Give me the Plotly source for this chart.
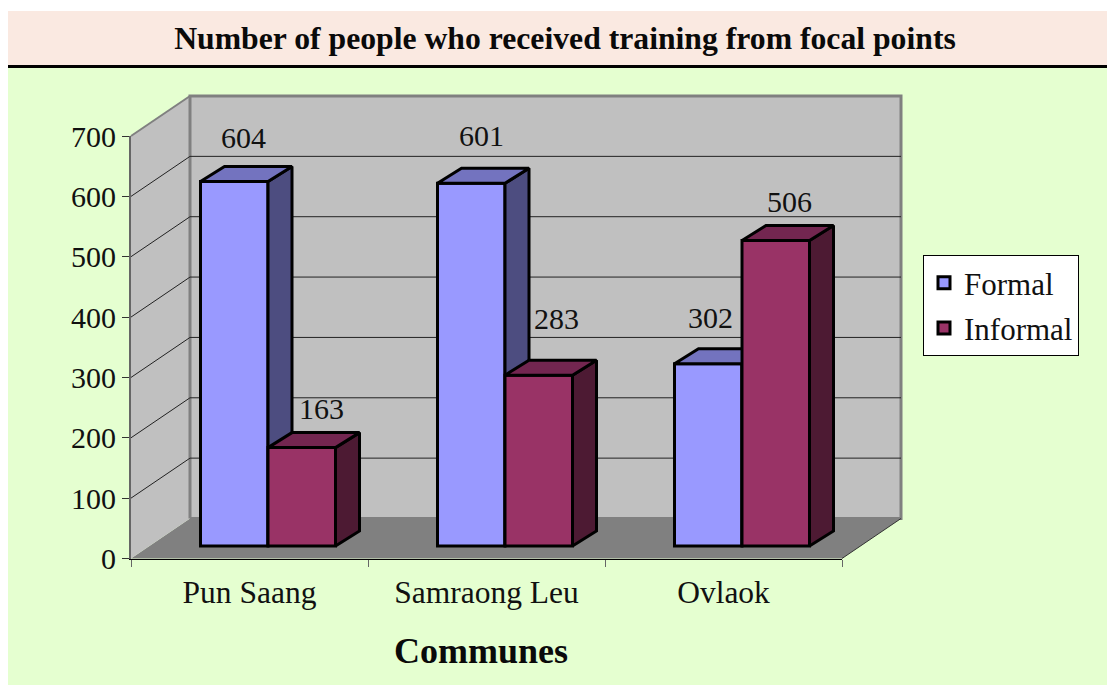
import plotly.graph_objects as go

communes = ["Pun Saang", "Samraong Leu", "Ovlaok"]
formal = [604, 601, 302]
informal = [163, 283, 506]
tick_values = [0, 100, 200, 300, 400, 500, 600, 700]

W, H = 1107, 686
FONT = "Liberation Serif"
INK = "#111111"
FORMAL = ("#9999FF", "#7373BF", "#4D4D80")
INFORMAL = ("#993366", "#732650", "#4D1A33")

# pixel calibration of the 3-D projection
X0, X1, Y0, Y700 = 131, 842, 558.5, 136
PX_U = (X1 - X0) / 3
PX_V = (Y0 - Y700) / 700
BACK_DX, BACK_DY = 59 / PX_U, 40 / PX_V
BAR_DX, BAR_DY = 24 / PX_U, 15 / PX_V
BAR_SHIFT_X, BAR_SHIFT_Y = 18.5, 12.5
BAR_W = 67.5 / PX_U


def xr(shift=0):
    return [-0.5 - (X0 + shift) / PX_U, -0.5 + (W - X0 - shift) / PX_U]


def yr(shift=0):
    return [-(H - Y0 + shift) / PX_V, (Y0 - shift) / PX_V]


fig = go.Figure()
fig.add_trace(go.Scatter(  # floor
    x=[-0.5, 2.5, 2.5 + BACK_DX, -0.5 + BACK_DX, -0.5],
    y=[0, 0, BACK_DY, BACK_DY, 0], mode="lines", fill="toself",
    fillcolor="#808080", line=dict(width=0), showlegend=False, hoverinfo="skip"))
fig.add_trace(go.Scatter(  # left wall
    x=[-0.5, -0.5 + BACK_DX, -0.5 + BACK_DX, -0.5, -0.5],
    y=[0, BACK_DY, 700 + BACK_DY, 700, 0], mode="lines", fill="toself",
    fillcolor="#C0C0C0", line=dict(width=0), showlegend=False, hoverinfo="skip"))
fig.add_trace(go.Scatter(  # back wall
    x=[-0.5 + BACK_DX, 2.5 + BACK_DX, 2.5 + BACK_DX, -0.5 + BACK_DX, -0.5 + BACK_DX],
    y=[BACK_DY, BACK_DY, 700 + BACK_DY, 700 + BACK_DY, BACK_DY], mode="lines",
    fill="toself", fillcolor="#C0C0C0", line=dict(color="#808080", width=3),
    showlegend=False, hoverinfo="skip"))
gx, gy = [], []
for v in tick_values[1:-1]:
    gx += [-0.5, -0.5 + BACK_DX, 2.5 + BACK_DX, None]
    gy += [v, v + BACK_DY, v + BACK_DY, None]
fig.add_trace(go.Scatter(x=gx, y=gy, mode="lines", line=dict(color="#222222", width=1),
                         showlegend=False, hoverinfo="skip"))
fig.add_trace(go.Scatter(x=[-0.5, -0.5 + BACK_DX], y=[700, 700 + BACK_DY], mode="lines",
                         line=dict(color="#808080", width=2), showlegend=False, hoverinfo="skip"))
fig.add_trace(go.Scatter(x=[2.5, 2.5 + BACK_DX], y=[0, BACK_DY], mode="lines",
                         line=dict(color="#333333", width=1), showlegend=False, hoverinfo="skip"))


def add_series(name, values, colors, offset, layer):
    xa, ya = f"x{layer}", f"y{layer}"
    fig.add_trace(go.Bar(
        x=list(range(3)), y=values, base=0, width=BAR_W, offset=offset, name=name,
        marker=dict(color=colors[0], line=dict(color="black", width=3)),
        xaxis=xa, yaxis=ya, legendgroup=name, hoverinfo="x+y"))
    for i, v in enumerate(values):
        l, r = i + offset, i + offset + BAR_W
        fig.add_trace(go.Scatter(
            x=[r, r + BAR_DX, r + BAR_DX, r, r], y=[0, BAR_DY, v + BAR_DY, v, 0],
            mode="lines", fill="toself", fillcolor=colors[2],
            line=dict(color="black", width=3), xaxis=xa, yaxis=ya,
            showlegend=False, hoverinfo="skip"))
        fig.add_trace(go.Scatter(
            x=[l, r, r + BAR_DX, l + BAR_DX, l], y=[v, v, v + BAR_DY, v + BAR_DY, v],
            mode="lines", fill="toself", fillcolor=colors[1],
            line=dict(color="black", width=3), xaxis=xa, yaxis=ya,
            showlegend=False, hoverinfo="skip"))


add_series("Formal", formal, FORMAL, -BAR_W, 2)
add_series("Informal", informal, INFORMAL, 0, 3)

# trace that carries the visible axes
fig.add_trace(go.Scatter(x=communes, y=[None] * 3, mode="markers", xaxis="x4", yaxis="y4",
                         showlegend=False, hoverinfo="skip"))

hidden = dict(visible=False, fixedrange=True, automargin=False)
fig.update_layout(
    width=W, height=H, margin=dict(l=0, r=0, t=0, b=0), autosize=False,
    paper_bgcolor="white", plot_bgcolor="rgba(0,0,0,0)",
    font=dict(family=FONT, color=INK, size=28),
    barmode="overlay",
    title=dict(text="<b>Number of people who received training from focal points</b>",
               x=565 / W, y=1 - 38 / H, xanchor="center", yanchor="middle",
               font=dict(size=31.7, family=FONT, color="#0a0a0a")),
    xaxis=dict(domain=[0, 1], range=xr(), anchor="y", **hidden),
    yaxis=dict(domain=[0, 1], range=yr(), anchor="x", **hidden),
    xaxis2=dict(domain=[0, 1], range=xr(BAR_SHIFT_X), anchor="y2", **hidden),
    yaxis2=dict(domain=[0, 1], range=yr(BAR_SHIFT_Y), anchor="x2", **hidden),
    xaxis3=dict(domain=[0, 1], range=xr(BAR_SHIFT_X), anchor="y3", **hidden),
    yaxis3=dict(domain=[0, 1], range=yr(BAR_SHIFT_Y), anchor="x3", **hidden),
    xaxis4=dict(domain=[X0 / W, X1 / W], anchor="y4", type="category", automargin=False,
                categoryorder="array", categoryarray=communes, range=[-0.5, 2.5],
                tickson="boundaries", ticks="outside", ticklen=7, tickcolor="#666666",
                showline=True, linecolor="black", linewidth=1, showgrid=False,
                ticklabelstandoff=6,
                tickfont=dict(size=31.5, family=FONT), fixedrange=True),
    yaxis4=dict(domain=[1 - Y0 / H, 1 - Y700 / H], anchor="x4", range=[0, 700], automargin=False,
                tickvals=tick_values, ticks="outside", ticklen=7, tickcolor="#333333",
                showline=True, linecolor="#666666", linewidth=2, showgrid=False,
                zeroline=False, tickfont=dict(size=30, family=FONT), fixedrange=True),
    legend=dict(x=923 / W, y=1 - 255 / H, xanchor="left", yanchor="top",
                bgcolor="white", bordercolor="black", borderwidth=1,
                entrywidth=112, entrywidthmode="pixels",
                font=dict(size=31, family=FONT), tracegroupgap=2),
    shapes=[
        dict(type="rect", xref="paper", yref="paper", layer="below", line_width=0,
             x0=8 / W, x1=1, y0=1 - 65 / H, y1=1 - 11 / H, fillcolor="#FAE9E1"),
        dict(type="rect", xref="paper", yref="paper", layer="below", line_width=0,
             x0=8 / W, x1=1, y0=1 - 685 / H, y1=1 - 68 / H, fillcolor="#E5FFD0"),
        dict(type="rect", xref="paper", yref="paper", layer="below", line_width=0,
             x0=8 / W, x1=1, y0=1 - 68 / H, y1=1 - 65 / H, fillcolor="black"),
    ],
)

label_offsets_formal = [(9, 44), (10, 48), (2, 46)]
label_offsets_informal = [(20, 39), (18, 57), (14, 39)]
for values, off, shifts in ((formal, -BAR_W / 2, label_offsets_formal),
                            (informal, BAR_W / 2, label_offsets_informal)):
    for i, v in enumerate(values):
        fig.add_annotation(x=i + off, y=v, xref="x2", yref="y2", text=str(v), showarrow=False,
                           xshift=shifts[i][0], yshift=shifts[i][1], yanchor="middle",
                           font=dict(size=30, family=FONT, color=INK))
fig.add_annotation(x=481 / W, y=1 - 651 / H, xref="paper", yref="paper", text="<b>Communes</b>",
                   showarrow=False, yanchor="middle", font=dict(size=36, family=FONT, color="#0a0a0a"))

fig.write_html("out.html", post_script="document.body.style.margin='0';document.body.style.overflow='hidden';",
               config=dict(displayModeBar=False))
